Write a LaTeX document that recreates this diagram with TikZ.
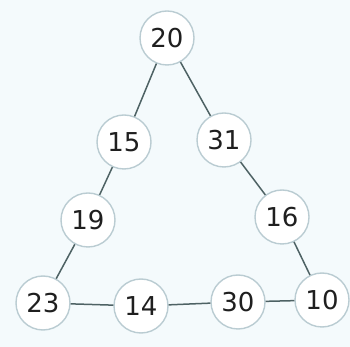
\documentclass[tikz,border=0pt]{standalone}
\usepackage{fontspec}
\setmainfont{DejaVu Sans}
\usepackage{xcolor}
\usepackage{tikz}
\definecolor{ringgray}{RGB}{186,204,210}
\definecolor{linkgray}{RGB}{78,98,100}
\definecolor{paleback}{RGB}{244,250,252}
\begin{document}
\begin{tikzpicture}[
  x=1pt, y=1pt,
  num/.style={circle, draw=ringgray, line width=1.4pt, fill=white, minimum size=54pt, inner sep=0pt, font=\fontsize{26}{28}\selectfont, text=black!88},
  link/.style={draw=linkgray, line width=1.5pt}]
  % background
  \fill[paleback] (0,0) rectangle (350,347);
  \useasboundingbox (0,0) rectangle (350,347);
  % numbers round the triangle
  \node[num] (n20) at (167,309) {20};
  \node[num] (n15) at (124,205) {15};
  \node[num] (n31) at (224,207) {31};
  \node[num] (n19) at (88,127) {19};
  \node[num] (n16) at (282,130) {16};
  \node[num] (n23) at (43,44) {23};
  \node[num] (n14) at (141,41) {14};
  \node[num] (n30) at (238,45) {30};
  \node[num] (n10) at (322,47) {10};
  % sides
  \draw[link] (n20) -- (n15);
  \draw[link] (n15) -- (n19);
  \draw[link] (n19) -- (n23);
  \draw[link] (n20) -- (n31);
  \draw[link] (n31) -- (n16);
  \draw[link] (n16) -- (n10);
  \draw[link] (n23) -- (n14);
  \draw[link] (n14) -- (n30);
  \draw[link] (n30) -- (n10);
\end{tikzpicture}
\end{document}
